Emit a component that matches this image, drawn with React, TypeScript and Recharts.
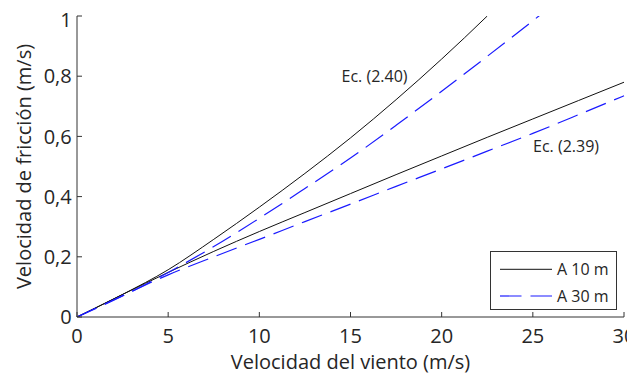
import React from 'react';
import { LineChart, Line, XAxis, YAxis, Legend, ReferenceDot, Label } from 'recharts';

const windSpeed = [0, 2.5, 5, 7.5, 10, 12.5, 15, 17.5, 20, 22.5, 25, 27.5, 30];
const ec240At10 = [0, 0.075, 0.157, 0.258, 0.365, 0.477, 0.595, 0.722, 0.857, 1.0, 1.151, null, null];
const ec240At30 = [0, 0.07, 0.148, 0.234, 0.328, 0.427, 0.528, 0.637, 0.75, 0.866, 0.984, 1.106, null];
const ec239At10 = [0, 0.075, 0.148, 0.218, 0.284, 0.347, 0.41, 0.473, 0.535, 0.597, 0.658, 0.719, 0.78];
const ec239At30 = [0, 0.071, 0.14, 0.2, 0.258, 0.317, 0.375, 0.434, 0.492, 0.551, 0.61, 0.672, 0.735];
const xTicks = [0, 5, 10, 15, 20, 25, 30];
const yTicks = [0, 0.2, 0.4, 0.6, 0.8, 1];
const legendLabels = ['A 10 m', 'A 30 m'];

const data = windSpeed.map((x, i) => ({
  x,
  a: ec240At10[i],
  b: ec240At30[i],
  c: ec239At10[i],
  d: ec239At30[i],
}));

const FONT = '"Open Sans", sans-serif';
const TXT = '#262626';
const AX = '#333333';
const BLUE = '#1a1aff';
const DASH = '21.5 9';

const fmtY = (v: number) => String(v).replace('.', ',');
const blank = () => '';

const LegendBox = () => (
  <div
    style={{
      width: 125,
      height: 57,
      border: `1px solid ${AX}`,
      background: '#fff',
      position: 'relative',
    }}
  >
    <svg width={125} height={57} style={{ position: 'absolute', left: 0, top: 0 }}>
      <line x1={9} x2={61} y1={17.3} y2={17.3} stroke="#111" strokeWidth={1} />
      <line x1={9} x2={61} y1={44} y2={44} stroke={BLUE} strokeWidth={1.2} strokeDasharray={DASH} />
      <text x={66} y={17.3} dominantBaseline="central" fontFamily={FONT} fontSize={16} fill={TXT}>
        {legendLabels[0]}
      </text>
      <text x={66} y={44} dominantBaseline="central" fontFamily={FONT} fontSize={16} fill={TXT}>
        {legendLabels[1]}
      </text>
    </svg>
  </div>
);

export default function App() {
  return (
    <LineChart
      width={635}
      height={374}
      data={data}
      margin={{ top: 8, right: 19, left: 0, bottom: 0 }}
      style={{ fontFamily: FONT }}
    >
      <XAxis
        dataKey="x"
        type="number"
        domain={[0, 30]}
        ticks={xTicks}
        height={65}
        tickSize={-5}
        tickMargin={17}
        stroke={AX}
        tick={{ fill: TXT, fontSize: 20, fontFamily: FONT }}
      >
        <Label
          value="Velocidad del viento (m/s)"
          position="center"
          dy={12.5}
          style={{ fill: TXT, fontSize: 20, fontFamily: FONT }}
        />
      </XAxis>
      <XAxis
        xAxisId="top"
        orientation="top"
        type="number"
        domain={[0, 30]}
        ticks={xTicks}
        height={0}
        tickSize={-5}
        tickFormatter={blank}
        stroke={AX}
      />
      <YAxis
        type="number"
        domain={[0, 1]}
        ticks={yTicks}
        allowDataOverflow
        width={69}
        tickSize={-5}
        tickMargin={10.3}
        tickFormatter={fmtY}
        stroke={AX}
        tick={{ fill: TXT, fontSize: 20, fontFamily: FONT }}
      >
        <Label
          value="Velocidad de fricción (m/s)"
          position="center"
          angle={-90}
          dx={-18.5}
          style={{ fill: TXT, fontSize: 20, fontFamily: FONT, textAnchor: 'middle' }}
        />
      </YAxis>
      <YAxis
        yAxisId="right"
        orientation="right"
        type="number"
        domain={[0, 1]}
        ticks={yTicks}
        width={0}
        tickSize={-5}
        tickFormatter={blank}
        stroke={AX}
      />
      <Line dataKey="a" type="monotone" stroke="#111" strokeWidth={1} dot={false} isAnimationActive={false} />
      <Line dataKey="c" type="monotone" stroke="#111" strokeWidth={1} dot={false} isAnimationActive={false} />
      <Line dataKey="b" type="monotone" stroke={BLUE} strokeWidth={1.2} strokeDasharray={DASH} dot={false} isAnimationActive={false} />
      <Line dataKey="d" type="monotone" stroke={BLUE} strokeWidth={1.2} strokeDasharray={DASH} dot={false} isAnimationActive={false} />
      <ReferenceDot x={16.32} y={0.799} r={0} stroke="none" fill="none">
        <Label value="Ec. (2.40)" position="center" style={{ fill: TXT, fontSize: 16, fontFamily: FONT }} />
      </ReferenceDot>
      <ReferenceDot x={26.82} y={0.567} r={0} stroke="none" fill="none">
        <Label value="Ec. (2.39)" position="center" style={{ fill: TXT, fontSize: 16, fontFamily: FONT }} />
      </ReferenceDot>
      <Legend
        layout="vertical"
        align="center"
        verticalAlign="middle"
        content={() => <LegendBox />}
        wrapperStyle={{ position: 'absolute', left: 482, top: 243, width: 127, height: 59 }}
      />
    </LineChart>
  );
}
